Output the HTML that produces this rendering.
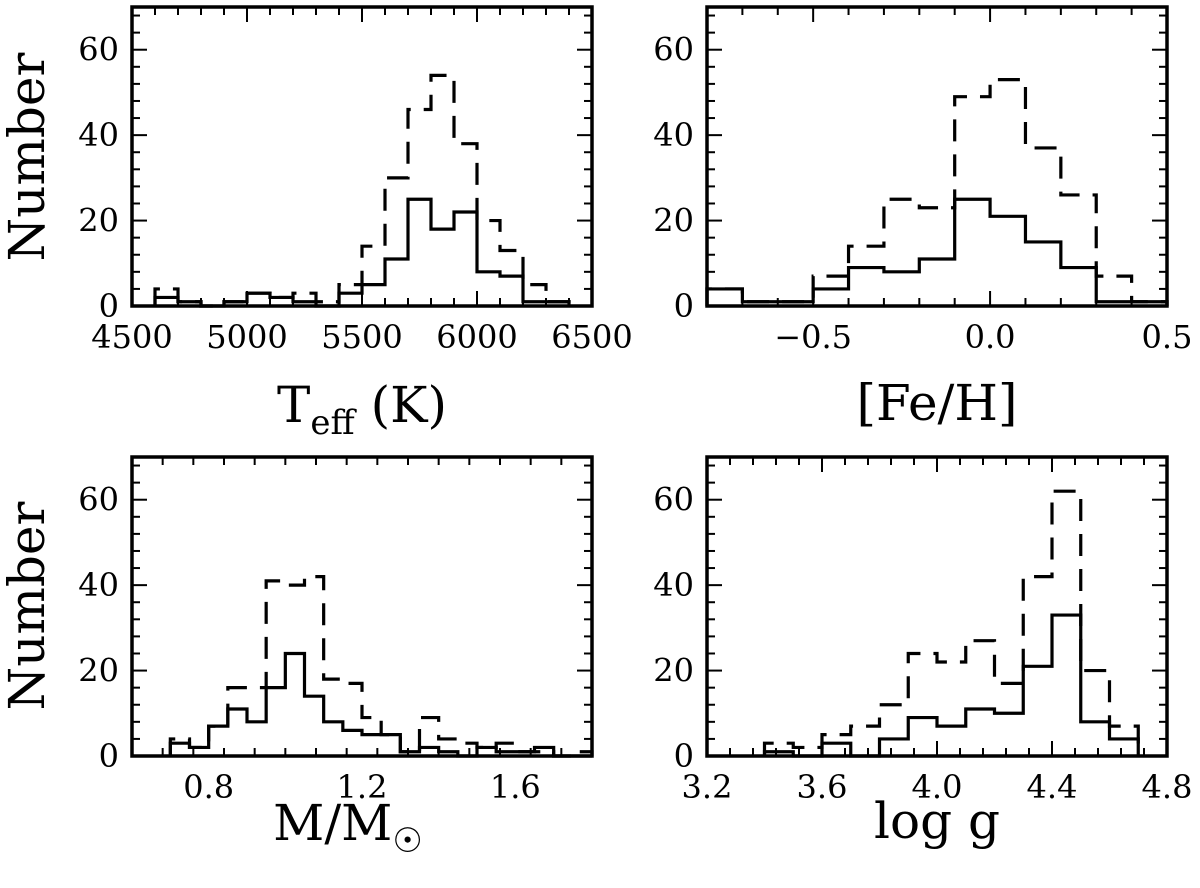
<!DOCTYPE html>
<html><head><meta charset="utf-8"><style>
html,body{margin:0;padding:0;background:#fff;}
svg text{font-family:"DejaVu Serif","Liberation Serif",serif;fill:#000;}
</style></head><body>
<svg id="fig" xmlns="http://www.w3.org/2000/svg" width="1200" height="883" viewBox="0 0 1200 883">
<rect width="1200" height="883" fill="#fff"/>
<text x="0" y="0" font-size="50" text-anchor="middle" transform="translate(44,157) rotate(-90)">Number</text>
<text x="0" y="0" font-size="50" text-anchor="middle" transform="translate(44,606) rotate(-90)">Number</text>
<text x="362" y="422" font-size="50" text-anchor="middle">T<tspan font-size="34" dy="12">eff</tspan><tspan dy="-12"> (K)</tspan></text>
<text x="937" y="420" font-size="50" text-anchor="middle">[Fe/H]</text>
<text x="348" y="840" font-size="50" text-anchor="middle">M/M<tspan font-size="34" dy="12">☉</tspan></text>
<text x="937" y="838" font-size="50" text-anchor="middle">log g</text>
</svg>
<script>
// ---- data ----
const teffEdges0 = 4600, teffWidth = 100;
const teffSolid = [2,1,0,1,3,2,1,0,3,5,11,25,18,22,8,7,1,1];
const teffDashed = [4,1,0,1,3,2,3,1,5,14,30,46,54,38,20,13,5,1];
const teffTicks = [4500,5000,5500,6000,6500];

const fehEdges0 = -0.8, fehWidth = 0.1;
const fehSolid = [4,1,1,4,9,8,11,25,21,15,9,1,1];
const fehDashed = [4,1,1,7,14,25,23,49,53,37,26,7,1];
const fehTicks = [-0.5,0.0,0.5];
const fehTickLabels = ["\u22120.5","0.0","0.5"];

const massEdges0 = 0.7, massWidth = 0.05;
const massSolid = [3,2,7,11,8,16,24,14,8,6,5,5,1,2,1,0,2,1,1,2,0,0];
const massDashed = [4,2,7,16,16,41,40,42,18,17,9,5,1,9,4,3,2,3,1,1,0,1];
const massTicks = [0.8,1.2,1.6];
const massTickLabels = ["0.8","1.2","1.6"];

const loggEdges0 = 3.4, loggWidth = 0.1;
const loggSolid = [1,0,3,0,4,9,7,11,10,21,33,8,4];
const loggDashed = [3,2,5,7,12,24,22,27,17,42,62,20,7];
const loggTicks = [3.2,3.6,4.0,4.4,4.8];
const loggTickLabels = ["3.2","3.6","4.0","4.4","4.8"];

const yTicks = [0,20,40,60];

const NS = "http://www.w3.org/2000/svg";
const svg = document.getElementById('fig');
function mk(tag, attrs){const e=document.createElementNS(NS,tag);for(const k in attrs)e.setAttribute(k,attrs[k]);return e;}

function panel(name, px0, px1, py0, py1, xmin, xmax, minorStep, majorTicks, majorLabels, e0, w, solid, dashed){
  const ymax = 70;
  const X = v => px0 + (v - xmin) / (xmax - xmin) * (px1 - px0);
  const Y = v => py1 - v / ymax * (py1 - py0);
  const g = mk('g', {});
  
  
  svg.appendChild(g);
  function hist(vals, dash, nm){
    let d = 'M' + X(e0) + ' ' + Y(0);
    vals.forEach((v,i)=>{ d += ' L' + X(e0+i*w) + ' ' + Y(v) + ' L' + X(e0+(i+1)*w) + ' ' + Y(v); });
    d += ' L' + X(e0+vals.length*w) + ' ' + Y(0);
    const p = mk('path', {d:d, fill:'none', stroke:'#000', 'stroke-width':3.2, 'stroke-linejoin':'miter'});
    if (dash) p.setAttribute('stroke-dasharray','22 13');
    
    
    g.appendChild(p);
  }
  hist(dashed, true, name + '-dashed-histogram');
  hist(solid, false, name + '-solid-histogram');
  const nmin = Math.round((xmax - xmin) / minorStep);
  for (let i=0;i<=nmin;i++){
    const v = xmin + i*minorStep;
    const isMajor = majorTicks.some(t=>Math.abs(t-v)<minorStep*0.1);
    const L = isMajor ? 15 : 8;
    const x = X(v);
    g.appendChild(mk('line',{x1:x,x2:x,y1:py1,y2:py1-L,stroke:'#000','stroke-width':2}));
    g.appendChild(mk('line',{x1:x,x2:x,y1:py0,y2:py0+L,stroke:'#000','stroke-width':2}));
  }
  for (let v=0; v<=ymax; v+=4){
    const isMajor = v % 20 === 0;
    const L = isMajor ? 15 : 8;
    const y = Y(v);
    g.appendChild(mk('line',{x1:px0,x2:px0+L,y1:y,y2:y,stroke:'#000','stroke-width':2}));
    g.appendChild(mk('line',{x1:px1,x2:px1-L,y1:y,y2:y,stroke:'#000','stroke-width':2}));
  }
  majorTicks.forEach((t,i)=>{
    const tx = mk('text',{x:X(t), y:py1+42, 'font-size':32, 'text-anchor':'middle'});
    tx.textContent = majorLabels[i];
    
    
    g.appendChild(tx);
  });
  yTicks.forEach(t=>{
    const tx = mk('text',{x:px0-13, y:Y(t)+11, 'font-size':32, 'text-anchor':'end'});
    tx.textContent = String(t);
    
    
    g.appendChild(tx);
  });
  const r = mk('rect',{x:px0,y:py0,width:px1-px0,height:py1-py0,fill:'none',stroke:'#000','stroke-width':3.5});
  
  
  g.appendChild(r);
}

panel('teff', 132, 592, 7, 306, 4500, 6500, 100, teffTicks, teffTicks.map(String), teffEdges0, teffWidth, teffSolid, teffDashed);
panel('feh', 707, 1167, 7, 306, -0.8, 0.5, 0.1, fehTicks, fehTickLabels, fehEdges0, fehWidth, fehSolid, fehDashed);
panel('mass', 132, 592, 457, 756, 0.6, 1.8, 0.08, massTicks, massTickLabels, massEdges0, massWidth, massSolid, massDashed);
panel('logg', 707, 1167, 457, 756, 3.2, 4.8, 0.08, loggTicks, loggTickLabels, loggEdges0, loggWidth, loggSolid, loggDashed);
</script>
</body></html>
